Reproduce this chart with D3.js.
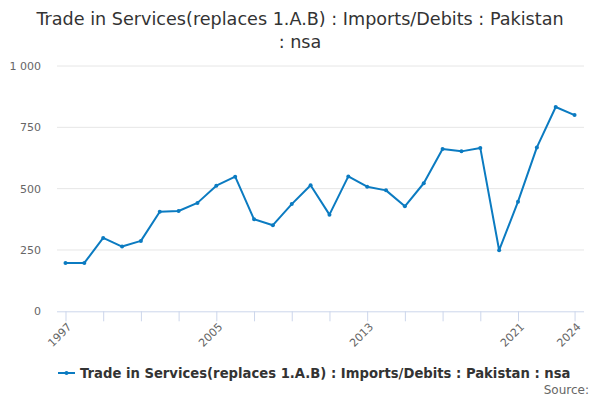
<!DOCTYPE html>
<html><head><meta charset="utf-8">
<script src="https://cdn.jsdelivr.net/npm/d3@7"></script>
<style>body{margin:0;background:#fff}svg{font-family:"DejaVu Sans",sans-serif}</style>
</head><body>
<div id="chart"></div>
<script>
const years = [1997,1998,1999,2000,2001,2002,2003,2004,2005,2006,2007,2008,2009,2010,2011,2012,2013,2014,2015,2016,2017,2018,2019,2020,2021,2022,2023,2024];
const values = [197,197,299,264,287,406,409,442,512,549,375,351,437,514,394,550,508,493,428,522,662,652,666,249,447,668,833,800];
const yTicks = [0,250,500,750,1000];
const xTickMarks = [1997,1999,2001,2003,2005,2007,2009,2011,2013,2015,2017,2019,2021,2024];
const xLabels = [1997,2005,2013,2021,2024];
const seriesName = "Trade in Services(replaces 1.A.B) : Imports/Debits : Pakistan : nsa";
const titleLines = ["Trade in Services(replaces 1.A.B) : Imports/Debits : Pakistan", ": nsa"];

const W=600,H=400;
const svg=d3.select("#chart").append("svg").attr("width",W).attr("height",H);
const x=d3.scaleLinear().domain([1996.55,2024.5]).range([57,584]);
const y=d3.scaleLinear().domain([0,1000]).range([311.3,66]);

// title
svg.append("g").selectAll("text").data(titleLines).join("text")
  .attr("x",W/2).attr("y",(d,i)=>25+i*23).attr("text-anchor","middle")
  .attr("font-size",17.6).attr("fill","#333").text(d=>d);

// grid
svg.append("g").selectAll("line").data(yTicks.filter(d=>d>0)).join("line")
  .attr("x1",57).attr("x2",584).attr("y1",d=>y(d)).attr("y2",d=>y(d))
  .attr("stroke","#e6e6e6").attr("stroke-width",1);
svg.append("g").selectAll("text").data(yTicks).join("text")
  .attr("x",41).attr("y",d=>y(d)+4).attr("text-anchor","end")
  .attr("font-size",11).attr("fill","#666")
  .text(d=>d>=1000? d3.format(",")(d).replace(","," "):d);

// x axis
const xAxis=d3.axisBottom(x).tickValues(xTickMarks).tickSize(10).tickFormat(d=>xLabels.includes(d)?d:"");
const gx=svg.append("g").attr("transform",`translate(0,${y(0)})`).call(xAxis);
gx.select(".domain").attr("stroke","#ccd6eb").attr("d","M57,0.5H584");
gx.selectAll(".tick line").attr("stroke","#ccd6eb");
gx.selectAll(".tick text").attr("font-size",11).attr("fill","#666")
  .attr("font-family","DejaVu Sans").attr("text-anchor","end")
  .attr("transform","translate(4,14) rotate(-45)").attr("dy","0.3em").attr("y",0);

// line
const data=years.map((d,i)=>({x:d,y:values[i]}));
svg.append("path").datum(data).attr("fill","none").attr("stroke","#0b7bc1").attr("stroke-width",2)
  .attr("stroke-linejoin","round").attr("d",d3.line().x(d=>x(d.x)).y(d=>y(d.y)));
svg.append("g").selectAll("circle").data(data).join("circle")
  .attr("cx",d=>x(d.x)).attr("cy",d=>y(d.y)).attr("r",2).attr("fill","#0b7bc1");

// legend
svg.append("line").attr("x1",58).attr("x2",75).attr("y1",373).attr("y2",373).attr("stroke","#0b7bc1").attr("stroke-width",2);
svg.append("circle").attr("cx",66.5).attr("cy",373).attr("r",2).attr("fill","#0b7bc1");
svg.append("text").attr("x",80).attr("y",378).attr("font-size",13.2).attr("font-weight","bold").attr("fill","#333").text(seriesName);
svg.append("text").attr("x",589).attr("y",394).attr("text-anchor","end").attr("font-size",12).attr("fill","#666").text("Source:");
</script>
</body></html>
